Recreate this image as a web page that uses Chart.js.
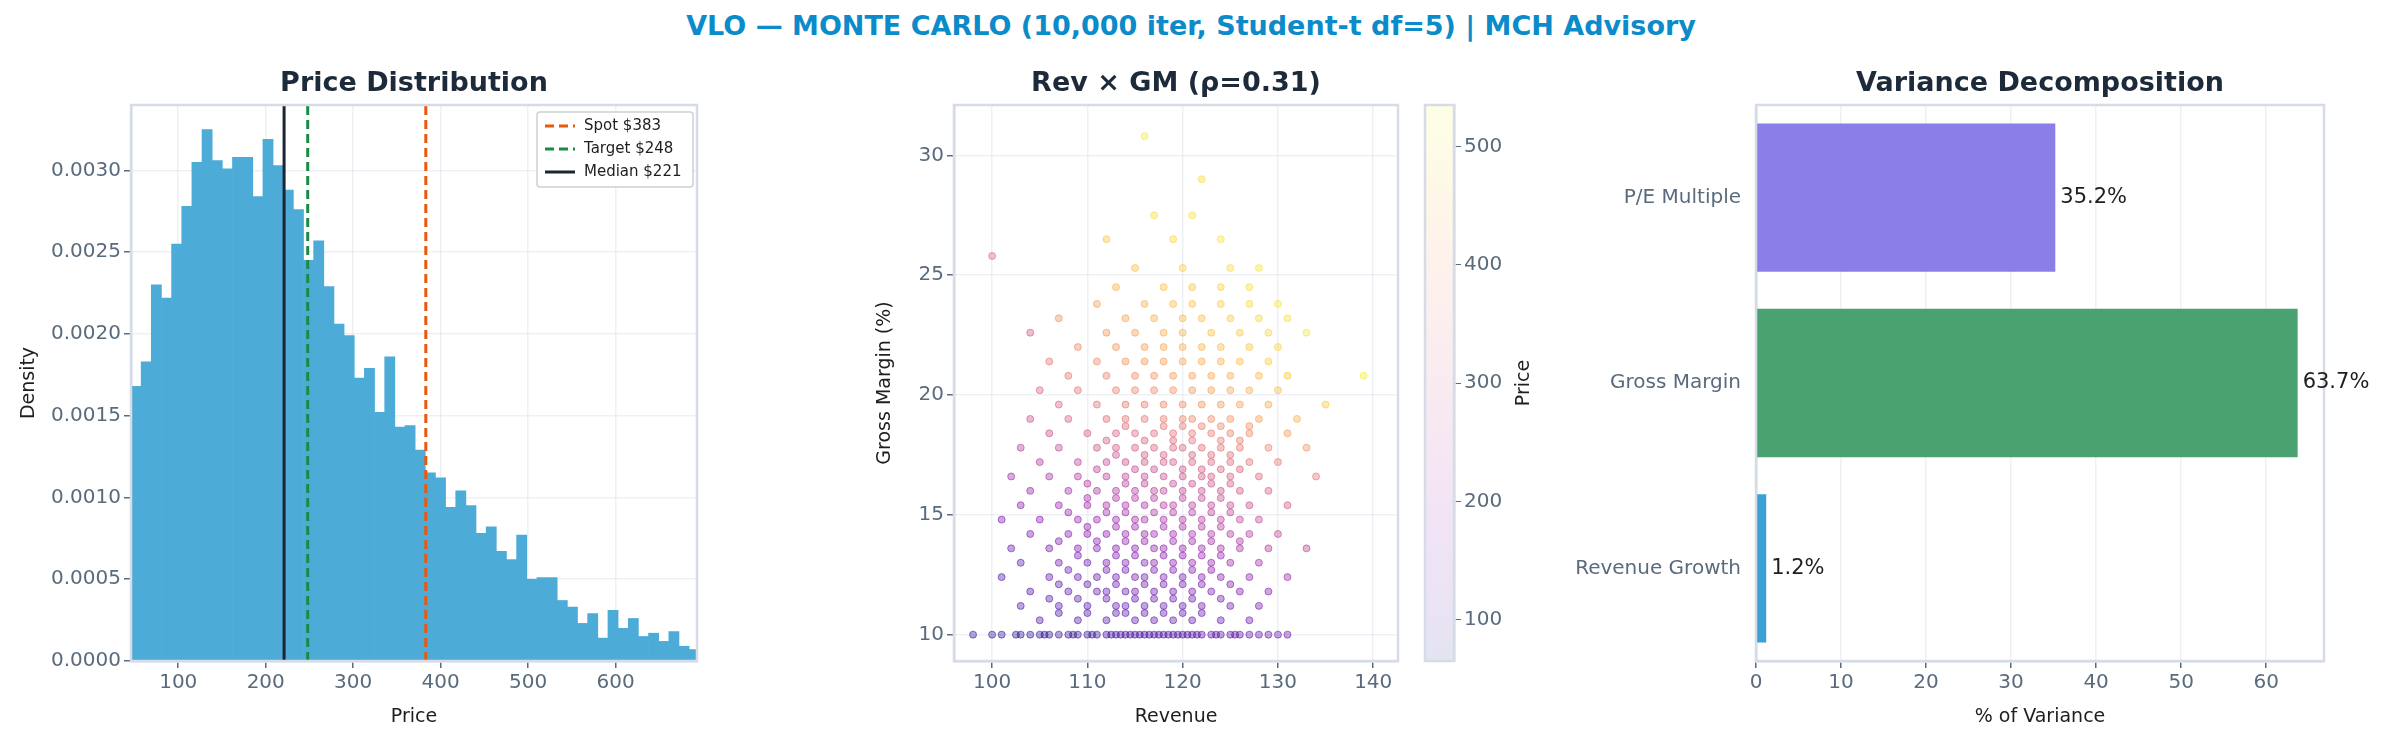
<!DOCTYPE html>
<html><head><meta charset="utf-8">
<script src="https://cdn.jsdelivr.net/npm/chart.js@4.4.0/dist/chart.umd.min.js"></script>
<style>
body{margin:0;background:#fff;width:2382px;height:742px;overflow:hidden;position:relative;font-family:"DejaVu Sans",sans-serif}
canvas{position:absolute;top:0}
#sup{position:absolute;top:10px;left:0;width:2382px;text-align:center;font:bold 27px "DejaVu Sans";color:#0b8bc9}
</style></head><body>
<div id="sup">VLO — MONTE CARLO (10,000 iter, Student-t df=5) | MCH Advisory</div>
<div id="w1" style="position:absolute;left:0;top:0;width:720px;height:742px"><canvas id="c1"></canvas></div>
<div id="w2" style="position:absolute;left:720px;top:0;width:700px;height:742px"><canvas id="c2"></canvas></div>
<div id="w3" style="position:absolute;left:1420px;top:0;width:140px;height:742px"><canvas id="c3"></canvas></div>
<div id="w4" style="position:absolute;left:1560px;top:0;width:822px;height:742px"><canvas id="c4"></canvas></div>
<script>
// ---------- DATA ----------
const histBinStart = 46, histBinWidth = 11.6;
const histDensity = [0.00168,0.00183,0.00230,0.00222,0.00255,0.00278,0.00305,0.00325,0.00306,0.00301,0.00308,0.00308,0.00284,0.00319,0.00303,0.00288,0.00276,0.00245,0.00257,0.00229,0.00206,0.00199,0.00173,0.00179,0.00152,0.00186,0.00143,0.00144,0.00129,0.00115,0.00112,0.00094,0.00104,0.00095,0.00078,0.00082,0.00067,0.00062,0.00077,0.00050,0.00051,0.00051,0.00037,0.00033,0.00023,0.00029,0.00014,0.00031,0.00020,0.00026,0.00015,0.00017,0.00012,0.00018,0.00009,0.00007];
const refLabels = ['Spot $383','Target $248','Median $221'];
const refValues = [383, 248, 221];

// scatter rows: [gross margin, revenues[], prices[]]
const scatterRows = [
 [10.0,[98,100,101,103,104,105,106,107,108,109,110,111,112,113,114,115,116,117,118,119,120,121,122,123,124,125,126,127,128,129,130,131],[75,80,80,85,85,90,90,95,95,100,100,105,105,110,110,110,115,115,120,120,120,125,125,130,130,135,135,140,140,145,150,150]],
 [10.0,[102.5,105.5,108.5,110.5,112.5,113.5,114.5,115.5,116.5,117.5,118.5,119.5,120.5,121.5,123.5,125.5],[80,85,90,95,100,100,105,105,110,110,115,115,120,120,125,130]],
 [10.6,[105,109,112,115,117,119,121,124,127],[110,115,120,125,130,130,135,140,150]],
 [10.9,[107,110,113,114,116,118,120,122],[105,110,115,120,120,125,130,135]],
 [11.2,[103,107,110,113,114,116,118,120,122,125,128],[110,115,120,125,125,130,135,140,145,150,160]],
 [11.5,[106,109,112,115,117,119,121,124],[115,120,125,130,135,140,145,150]],
 [11.8,[104,108,111,112,114,115,117,119,121,123,126,129],[115,125,130,130,135,140,145,150,160,165,175,185]],
 [12.1,[107,110,113,116,118,120,122,125],[125,130,140,145,150,155,160,170]],
 [12.4,[101,106,109,111,113,115,116,118,120,122,124,127,131],[110,130,135,140,145,150,155,160,165,175,185,195,210]],
 [12.7,[108,112,114,117,119,121,123],[140,150,155,165,170,175,185]],
 [13.0,[103,107,110,112,114,116,117,119,121,123,125,128],[130,145,150,155,160,170,175,180,190,200,210,220]],
 [13.3,[109,113,115,118,120,122,124],[155,165,170,180,185,195,205]],
 [13.6,[102,106,109,111,113,115,117,118,120,122,124,126,129,133],[140,155,165,170,175,180,190,195,200,210,220,230,245,260]],
 [13.9,[107,111,114,116,119,121,123,126],[170,180,190,195,205,210,220,235]],
 [14.2,[104,108,110,112,114,116,117,119,121,123,125,127,130],[160,175,180,185,195,200,205,210,220,230,240,250,270]],
 [14.5,[110,113,115,118,120,122,124],[190,200,205,215,225,235,245]],
 [14.8,[101,105,109,111,113,115,116,118,120,122,124,126,128],[165,185,195,200,205,215,220,225,235,245,255,265,275]],
 [15.1,[108,112,114,117,119,121,123,125],[200,215,220,230,240,245,255,265]],
 [15.4,[103,107,110,112,114,116,118,119,121,123,125,127,131],[185,200,210,220,225,230,240,245,250,260,270,280,300]],
 [15.7,[110,113,115,117,120,122,124],[220,230,240,245,255,265,275]],
 [16.0,[104,108,111,113,115,117,118,120,122,124,126,129],[200,220,230,240,245,255,260,265,275,285,295,310]],
 [16.3,[110,114,116,119,121,123,125],[240,250,260,270,280,290,300]],
 [16.6,[102,106,109,112,114,116,118,120,122,123,125,128,134],[210,230,245,255,265,270,280,285,295,300,310,325,350]],
 [16.9,[111,115,117,120,122,124,126],[255,270,280,290,300,310,320]],
 [17.2,[105,109,112,114,116,118,119,121,123,125,127,130],[240,260,270,280,290,295,300,310,320,330,340,360]],
 [17.5,[113,116,118,121,123,125],[285,295,305,315,325,335]],
 [17.8,[103,107,111,113,115,117,119,120,122,124,126,129,133],[250,270,290,300,305,315,320,325,335,345,355,375,400]],
 [18.1,[112,116,119,121,124,126],[300,315,330,340,355,365]],
 [18.4,[106,110,113,115,117,119,121,123,125,127,131],[280,300,315,325,335,340,350,360,370,380,410]],
 [18.7,[114,118,120,122,124,127],[330,345,355,365,375,390]],
 [19.0,[104,108,112,114,116,118,120,121,123,125,128,132],[285,310,330,340,350,360,370,375,385,395,415,440]],
 [19.6,[107,111,114,116,118,120,122,124,126,129,135],[320,340,355,365,375,385,395,405,415,430,470]],
 [20.2,[105,109,113,115,117,119,121,123,125,127,130],[320,345,365,375,385,395,405,415,425,440,460]],
 [20.8,[108,112,115,117,119,121,123,125,128,131,139],[350,370,385,395,405,415,425,435,450,470,520]],
 [21.4,[106,111,114,116,118,120,122,124,126,129],[350,380,395,405,415,425,435,445,460,480]],
 [22.0,[109,113,116,118,120,122,124,127,130],[380,400,415,425,435,445,455,470,490]],
 [22.6,[104,112,115,118,120,123,126,129,133],[300,400,420,435,445,460,475,490,510]],
 [23.2,[107,114,117,120,122,125,128,131],[390,420,435,450,460,475,490,505]],
 [23.8,[111,116,119,121,124,127,130],[420,440,455,465,480,495,510]],
 [24.5,[113,118,121,124,127],[440,460,470,485,500]],
 [25.3,[115,120,125,128],[460,480,500,510]],
 [25.8,[100],[330]],
 [26.5,[112,119,124],[470,490,510]],
 [27.5,[117,121],[500,505]],
 [29.0,[122],[500]],
 [30.8,[116],[520]]
];
const priceMin = 65, priceMax = 535;

const varCategories = ['P/E Multiple','Gross Margin','Revenue Growth'];
const varValues = [35.2, 63.7, 1.2];
const varColors = ['#8a7fe9','#4aa271','#3aa1d6'];

// ---------- HELPERS ----------
const FONT = '"DejaVu Sans", sans-serif';
const TICK = '#5a6b7d', AX = '#1e1e1e', SPINE = '#d5dce6';
const GRID = 'rgba(215,222,232,0.45)';
const TS = 20, TT = 19;
const plasma = [[0,13,8,135],[.125,76,2,161],[.25,126,3,168],[.375,169,35,149],[.5,204,71,120],[.625,229,107,93],[.75,248,149,64],[.875,253,197,39],[1,240,249,33]];
function plasmaRGB(t){t=Math.max(0,Math.min(1,t));for(let i=1;i<plasma.length;i++){if(t<=plasma[i][0]){const a=plasma[i-1],b=plasma[i],f=(t-a[0])/(b[0]-a[0]);return [0,1,2].map(k=>Math.round(a[k+1]+(b[k+1]-a[k+1])*f));}}return plasma[8].slice(1);}
function rgba(c,a){return `rgba(${c[0]},${c[1]},${c[2]},${a})`;}
function panelTitle(text){return {id:'pt',afterDraw(ch){const c=ch.ctx,a=ch.chartArea;c.save();c.font='bold 27px '+FONT;c.fillStyle='#1c2a3a';c.textAlign='center';c.textBaseline='middle';c.fillText(text,(a.left+a.right)/2,84);
  c.strokeStyle=SPINE;c.lineWidth=2.5;c.strokeRect(a.left,a.top,a.right-a.left,a.bottom-a.top);c.restore();}};}
function fitW(w){return s=>{s.width=w;};}
function fitH(h){return s=>{s.height=h;};}
const border = {color:SPINE,width:2.5};
const xTitle = t=>({display:true,text:t,color:AX,font:{size:TT},padding:{top:6,bottom:0}});
Chart.defaults.font.family = FONT;
Chart.defaults.animation = false;

// ---------- PANEL 1 ----------
const histData = histDensity.map((d,i)=>({x:histBinStart+histBinWidth*(i+0.5),y:d}));
const refColors = ['#e8590c','#1a8a47','#1c2433'];
const refDash = [[9,5],[9,5],[]];
const yTop1 = 0.0034;
const refSets = refValues.map((v,i)=>({type:'line',label:refLabels[i],data:[{x:v,y:0},{x:v,y:yTop1}],borderColor:refColors[i],borderWidth:3,borderDash:refDash[i],pointRadius:0,order:0}));
new Chart(document.getElementById('c1'),{
 type:'bar',
 data:{datasets:[{label:'hist',data:histData,backgroundColor:'#4dacd7',barPercentage:1,categoryPercentage:1,order:2,grouped:false},...refSets]},
 options:{responsive:true,maintainAspectRatio:false,
  layout:{padding:{top:105,left:14,right:23,bottom:14}},
  plugins:{legend:{display:false},tooltip:{enabled:false}},
  scales:{
   x:{type:'linear',min:46,max:693,offset:false,z:1,border,afterFit:fitH(67),
      grid:{color:GRID,lineWidth:1.5,tickColor:TICK,tickLength:7,offset:false},
      ticks:{stepSize:100,includeBounds:false,color:TICK,font:{size:TS}},
      title:xTitle('Price')},
   y:{min:0,max:yTop1,z:1,border,afterFit:fitW(117),
      grid:{color:GRID,lineWidth:1.5,tickColor:TICK,tickLength:7},
      ticks:{stepSize:0.0005,includeBounds:false,color:TICK,font:{size:TS},callback:v=>Number(v).toFixed(4)},
      title:{display:true,text:'Density',color:AX,font:{size:TT}}}
  }},
 plugins:[panelTitle('Price Distribution'),{id:'lg',afterDraw(ch){const c=ch.ctx;c.save();
   const x0=537,y0=112,w=156,h=75;c.fillStyle='rgba(255,255,255,0.9)';c.strokeStyle='#d0d0d0';c.lineWidth=1.5;
   c.beginPath();c.roundRect(x0,y0,w,h,3);c.fill();c.stroke();
   c.font='15px '+FONT;c.textBaseline='middle';c.fillStyle='#1e1e1e';
   refLabels.forEach((t,i)=>{const y=y0+14+i*23;c.strokeStyle=refColors[i];c.lineWidth=3;c.setLineDash(refDash[i]);c.beginPath();c.moveTo(x0+8,y);c.lineTo(x0+38,y);c.stroke();c.setLineDash([]);c.fillText(t,x0+47,y);});
   c.restore();}}]
});

// ---------- PANEL 2 ----------
const sc=[],scBg=[],scBd=[];
scatterRows.forEach(r=>r[1].forEach((rev,j)=>{const col=plasmaRGB((r[2][j]-priceMin)/(priceMax-priceMin));sc.push({x:rev,y:r[0]});scBg.push(rgba(col,0.36));scBd.push(rgba(col,0.5));}));
new Chart(document.getElementById('c2'),{
 type:'scatter',
 data:{datasets:[{data:sc,backgroundColor:scBg,borderColor:scBd,borderWidth:1,pointRadius:3.5}]},
 options:{responsive:true,maintainAspectRatio:false,
  layout:{padding:{top:105,left:150,right:22,bottom:14}},
  plugins:{legend:{display:false},tooltip:{enabled:false}},
  scales:{
   x:{min:96,max:142.6,border,afterFit:fitH(67),grid:{color:GRID,lineWidth:1.5,tickColor:TICK,tickLength:7},
      ticks:{stepSize:10,includeBounds:false,color:TICK,font:{size:TS}},
      title:xTitle('Revenue')},
   y:{min:8.9,max:32.1,border,afterFit:fitW(84),grid:{color:GRID,lineWidth:1.5,tickColor:TICK,tickLength:7},
      ticks:{stepSize:5,includeBounds:false,color:TICK,font:{size:TS}},
      title:{display:true,text:'Gross Margin (%)',color:AX,font:{size:TT}}}
  }},
 plugins:[panelTitle('Rev × GM (ρ=0.31)')]
});

// ---------- COLORBAR ----------
new Chart(document.getElementById('c3'),{
 type:'bar',
 data:{labels:[''],datasets:[{data:[[priceMin,priceMax]],barPercentage:1,categoryPercentage:1,borderSkipped:false,
   backgroundColor:(ctx)=>{const a=ctx.chart.chartArea;if(!a)return '#eee';const g=ctx.chart.ctx.createLinearGradient(0,a.bottom,0,a.top);plasma.forEach(s=>g.addColorStop(s[0],rgba([s[1],s[2],s[3]],0.11)));return g;}}]},
 options:{responsive:true,maintainAspectRatio:false,
  layout:{padding:{top:105,left:5,right:22,bottom:81}},
  plugins:{legend:{display:false},tooltip:{enabled:false}},
  scales:{
   x:{display:false},
   y:{position:'right',min:priceMin,max:priceMax,afterFit:fitW(84),border:{color:SPINE,width:2.5},grid:{drawOnChartArea:false,tickColor:TICK,tickLength:7},
      ticks:{stepSize:100,includeBounds:false,color:TICK,font:{size:TS}}}
  }},
 plugins:[{id:'cbb',afterDraw(ch){const a=ch.chartArea,c=ch.ctx;c.save();c.strokeStyle=SPINE;c.lineWidth=2.5;c.strokeRect(a.left,a.top,a.right-a.left,a.bottom-a.top);
   c.translate(104,(a.top+a.bottom)/2);c.rotate(-Math.PI/2);c.font=TT+'px '+FONT;c.fillStyle=AX;c.textAlign='center';c.textBaseline='middle';c.fillText('Price',0,0);c.restore();}}]
});

// ---------- PANEL 3 ----------
new Chart(document.getElementById('c4'),{
 type:'bar',
 data:{labels:varCategories,datasets:[{data:varValues,backgroundColor:varColors,barPercentage:0.8,categoryPercentage:1}]},
 options:{indexAxis:'y',responsive:true,maintainAspectRatio:false,
  layout:{padding:{top:105,left:0,right:58,bottom:14}},
  plugins:{legend:{display:false},tooltip:{enabled:false}},
  scales:{
   x:{min:0,max:66.8,z:1,border,afterFit:fitH(67),grid:{color:GRID,lineWidth:1.5,tickColor:TICK,tickLength:7},
      ticks:{stepSize:10,includeBounds:false,color:TICK,font:{size:TS}},
      title:xTitle('% of Variance')},
   y:{border,afterFit:fitW(196),grid:{display:false,tickColor:TICK,tickLength:7,drawTicks:true},
      ticks:{color:TICK,font:{size:TS},padding:8}}
  }},
 plugins:[panelTitle('Variance Decomposition'),{id:'vl',afterDraw(ch){const c=ch.ctx;c.save();c.font='21px '+FONT;c.fillStyle='#1e1e1e';c.textBaseline='middle';
   ch.getDatasetMeta(0).data.forEach((b,i)=>c.fillText(varValues[i].toFixed(1)+'%',b.x+5,b.y));c.restore();}}]
});
</script></body></html>
